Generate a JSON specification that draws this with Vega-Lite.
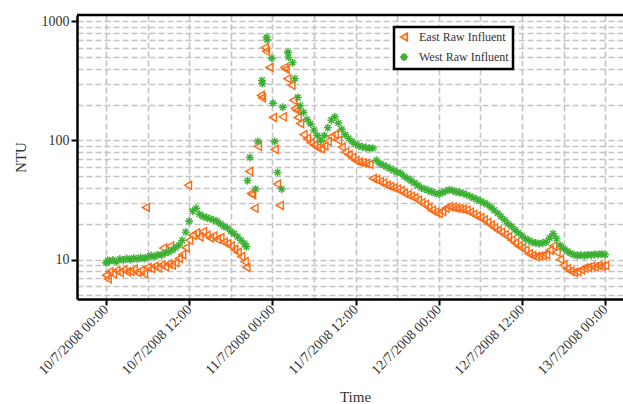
{
"$schema": "https://vega.github.io/schema/vega-lite/v6.json",
"width": 546, "height": 284,
"autosize": {"type": "none"},
"padding": {"left": 77, "top": 15, "right": 0, "bottom": 105},
"background": "white",
"config": {
 "view": {"stroke": null},
 "font": "Liberation Serif",
 "axis": {"grid": true, "gridColor": "#c4c4c4", "gridDash": [6, 3], "gridWidth": 1.6, "domainColor": "black", "domainWidth": 2.5, "tickColor": "black", "tickWidth": 2, "tickSize": 6, "labelFont": "Liberation Serif", "labelFontSize": 14, "labelColor": "#333", "titleFont": "Liberation Serif", "titleFontSize": 15, "titleFontWeight": "normal", "titleColor": "#333", "labelOverlap": false, "labelFlush": false},
 "legend": {"strokeColor": "black", "strokeWidth": 2.5, "fillColor": "white", "padding": 4, "labelFontSize": 12, "labelFont": "Liberation Serif", "labelColor": "#333", "symbolSize": 55, "symbolStrokeWidth": 1.8, "rowPadding": 4, "labelOffset": 9}
},
"data": {"values": [
{"t":"2008-07-10T00:00Z","E":7.4,"W":9.4},
{"t":"2008-07-10T00:15Z","E":6.9,"W":9.8},
{"t":"2008-07-10T00:30Z","E":7.9,"W":9.7},
{"t":"2008-07-10T01:00Z","E":7.6,"W":9.9},
{"t":"2008-07-10T01:30Z","E":8.1,"W":9.6},
{"t":"2008-07-10T02:00Z","E":7.8,"W":10.1},
{"t":"2008-07-10T02:30Z","E":8.2,"W":9.9},
{"t":"2008-07-10T03:00Z","E":7.9,"W":10.2},
{"t":"2008-07-10T03:30Z","E":8.0,"W":10.0},
{"t":"2008-07-10T04:00Z","E":8.3,"W":10.3},
{"t":"2008-07-10T04:30Z","E":7.8,"W":10.1},
{"t":"2008-07-10T05:00Z","E":8.1,"W":10.4},
{"t":"2008-07-10T05:30Z","E":7.6,"W":10.2},
{"t":"2008-07-10T05:45Z","E":27.4},
{"t":"2008-07-10T06:00Z","E":8.6,"W":10.5},
{"t":"2008-07-10T06:30Z","E":8.4,"W":10.8},
{"t":"2008-07-10T07:00Z","E":8.8,"W":10.6},
{"t":"2008-07-10T07:30Z","E":8.5,"W":11.0},
{"t":"2008-07-10T08:00Z","E":9.0,"W":10.9},
{"t":"2008-07-10T08:15Z","E":12.5},
{"t":"2008-07-10T08:30Z","E":8.7,"W":11.3},
{"t":"2008-07-10T09:00Z","E":9.2,"W":11.6},
{"t":"2008-07-10T09:15Z","E":13.0},
{"t":"2008-07-10T09:30Z","E":9.0,"W":12.0},
{"t":"2008-07-10T10:00Z","E":9.4,"W":12.5},
{"t":"2008-07-10T10:30Z","E":10.2,"W":13.2},
{"t":"2008-07-10T11:00Z","E":11.0,"W":14.5},
{"t":"2008-07-10T11:30Z","E":12.6,"W":17.0},
{"t":"2008-07-10T11:50Z","E":42},
{"t":"2008-07-10T12:00Z","E":14.5,"W":21.0},
{"t":"2008-07-10T12:30Z","E":16.0,"W":25.5},
{"t":"2008-07-10T13:00Z","E":16.8,"W":27.0},
{"t":"2008-07-10T13:30Z","E":15.5,"W":24.0},
{"t":"2008-07-10T14:00Z","E":17.2,"W":23.0},
{"t":"2008-07-10T14:30Z","E":16.0,"W":22.5},
{"t":"2008-07-10T15:00Z","E":15.2,"W":22.0},
{"t":"2008-07-10T15:30Z","E":15.8,"W":21.5},
{"t":"2008-07-10T16:00Z","E":14.8,"W":21.0},
{"t":"2008-07-10T16:30Z","E":15.3,"W":20.0},
{"t":"2008-07-10T17:00Z","E":14.0,"W":19.0},
{"t":"2008-07-10T17:30Z","E":13.6,"W":18.5},
{"t":"2008-07-10T18:00Z","E":13.0,"W":17.2},
{"t":"2008-07-10T18:30Z","E":12.2,"W":16.5},
{"t":"2008-07-10T19:00Z","E":11.5,"W":15.5},
{"t":"2008-07-10T19:30Z","E":10.6,"W":14.5},
{"t":"2008-07-10T20:00Z","E":9.6,"W":13.6},
{"t":"2008-07-10T20:15Z","E":8.6,"W":12.8},
{"t":"2008-07-10T20:25Z","W":46},
{"t":"2008-07-10T20:40Z","E":55},
{"t":"2008-07-10T20:45Z","W":72},
{"t":"2008-07-10T20:55Z","E":36},
{"t":"2008-07-10T21:05Z","E":35},
{"t":"2008-07-10T21:25Z","E":27},
{"t":"2008-07-10T21:35Z","W":39},
{"t":"2008-07-10T21:55Z","E":89,"W":98},
{"t":"2008-07-10T22:20Z","E":239},
{"t":"2008-07-10T22:30Z","E":228,"W":319},
{"t":"2008-07-10T22:35Z","W":300},
{"t":"2008-07-10T22:55Z","E":600},
{"t":"2008-07-10T23:05Z","E":560},
{"t":"2008-07-10T23:10Z","W":735},
{"t":"2008-07-10T23:15Z","W":700},
{"t":"2008-07-10T23:35Z","E":410},
{"t":"2008-07-10T23:55Z","W":490},
{"t":"2008-07-11T00:05Z","E":156,"W":205},
{"t":"2008-07-11T00:20Z","E":84,"W":98},
{"t":"2008-07-11T00:40Z","E":43},
{"t":"2008-07-11T00:45Z","W":54},
{"t":"2008-07-11T01:05Z","E":28.5},
{"t":"2008-07-11T01:20Z","W":39},
{"t":"2008-07-11T01:30Z","E":158,"W":190},
{"t":"2008-07-11T01:45Z","E":410},
{"t":"2008-07-11T01:55Z","E":395},
{"t":"2008-07-11T02:10Z","E":330},
{"t":"2008-07-11T02:15Z","W":550},
{"t":"2008-07-11T02:20Z","W":500},
{"t":"2008-07-11T02:45Z","E":290},
{"t":"2008-07-11T02:55Z","W":450},
{"t":"2008-07-11T03:00Z","E":217},
{"t":"2008-07-11T03:15Z","E":186,"W":330},
{"t":"2008-07-11T03:30Z","E":178},
{"t":"2008-07-11T03:40Z","E":156,"W":230},
{"t":"2008-07-11T04:00Z","E":139,"W":195},
{"t":"2008-07-11T04:30Z","E":112,"W":172},
{"t":"2008-07-11T05:00Z","E":104,"W":150},
{"t":"2008-07-11T05:30Z","E":96,"W":138},
{"t":"2008-07-11T06:00Z","E":91,"W":122},
{"t":"2008-07-11T06:30Z","E":87,"W":110},
{"t":"2008-07-11T07:00Z","E":85,"W":100},
{"t":"2008-07-11T07:30Z","E":90,"W":110},
{"t":"2008-07-11T08:00Z","E":98,"W":128},
{"t":"2008-07-11T08:30Z","E":108,"W":148},
{"t":"2008-07-11T09:00Z","E":112,"W":158},
{"t":"2008-07-11T09:30Z","E":100,"W":140},
{"t":"2008-07-11T10:00Z","E":88,"W":124},
{"t":"2008-07-11T10:30Z","E":80,"W":112},
{"t":"2008-07-11T11:00Z","E":76,"W":104},
{"t":"2008-07-11T11:30Z","E":72,"W":98},
{"t":"2008-07-11T12:00Z","E":68,"W":93},
{"t":"2008-07-11T12:30Z","E":66,"W":90},
{"t":"2008-07-11T13:00Z","E":65,"W":88},
{"t":"2008-07-11T13:30Z","E":64,"W":87},
{"t":"2008-07-11T14:00Z","E":63,"W":86},
{"t":"2008-07-11T14:30Z","E":48,"W":86},
{"t":"2008-07-11T15:00Z","E":47,"W":68},
{"t":"2008-07-11T15:30Z","E":45,"W":64},
{"t":"2008-07-11T16:00Z","E":44,"W":62},
{"t":"2008-07-11T16:30Z","E":42,"W":60},
{"t":"2008-07-11T17:00Z","E":41,"W":58},
{"t":"2008-07-11T17:30Z","E":40,"W":56},
{"t":"2008-07-11T18:00Z","E":39,"W":54},
{"t":"2008-07-11T18:30Z","E":38,"W":53},
{"t":"2008-07-11T19:00Z","E":36,"W":50},
{"t":"2008-07-11T19:30Z","E":35,"W":48},
{"t":"2008-07-11T20:00Z","E":34,"W":46},
{"t":"2008-07-11T20:30Z","E":33,"W":44},
{"t":"2008-07-11T21:00Z","E":31.5,"W":42},
{"t":"2008-07-11T21:30Z","E":30,"W":40},
{"t":"2008-07-11T22:00Z","E":29,"W":39},
{"t":"2008-07-11T22:30Z","E":27.5,"W":38},
{"t":"2008-07-11T23:00Z","E":26,"W":37},
{"t":"2008-07-11T23:30Z","E":25,"W":36},
{"t":"2008-07-12T00:00Z","E":24.5,"W":35.5},
{"t":"2008-07-12T00:30Z","E":25.5,"W":36.5},
{"t":"2008-07-12T01:00Z","E":27,"W":37.5},
{"t":"2008-07-12T01:30Z","E":27.8,"W":38.5},
{"t":"2008-07-12T02:00Z","E":27.5,"W":38},
{"t":"2008-07-12T02:30Z","E":27,"W":37},
{"t":"2008-07-12T03:00Z","E":26.8,"W":36.5},
{"t":"2008-07-12T03:30Z","E":26.5,"W":36},
{"t":"2008-07-12T04:00Z","E":26,"W":35},
{"t":"2008-07-12T04:30Z","E":25,"W":34},
{"t":"2008-07-12T05:00Z","E":24,"W":33},
{"t":"2008-07-12T05:30Z","E":23.2,"W":32},
{"t":"2008-07-12T06:00Z","E":22.5,"W":31},
{"t":"2008-07-12T06:30Z","E":21.5,"W":30},
{"t":"2008-07-12T07:00Z","E":20.5,"W":29},
{"t":"2008-07-12T07:30Z","E":19.5,"W":27.5},
{"t":"2008-07-12T08:00Z","E":18.5,"W":26},
{"t":"2008-07-12T08:30Z","E":17.6,"W":24.5},
{"t":"2008-07-12T09:00Z","E":17,"W":23},
{"t":"2008-07-12T09:30Z","E":16.2,"W":21.5},
{"t":"2008-07-12T10:00Z","E":15.5,"W":20},
{"t":"2008-07-12T10:30Z","E":14.6,"W":19},
{"t":"2008-07-12T11:00Z","E":13.8,"W":17.8},
{"t":"2008-07-12T11:30Z","E":13,"W":16.8},
{"t":"2008-07-12T12:00Z","E":12.5,"W":15.8},
{"t":"2008-07-12T12:30Z","E":12,"W":15},
{"t":"2008-07-12T13:00Z","E":11.2,"W":14.5},
{"t":"2008-07-12T13:30Z","E":10.8,"W":14},
{"t":"2008-07-12T14:00Z","E":10.6,"W":13.8},
{"t":"2008-07-12T14:30Z","E":10.7,"W":13.6},
{"t":"2008-07-12T15:00Z","E":10.8,"W":13.8},
{"t":"2008-07-12T15:30Z","E":11,"W":14},
{"t":"2008-07-12T16:00Z","E":12,"W":15.2},
{"t":"2008-07-12T16:30Z","E":13,"W":16.5},
{"t":"2008-07-12T17:00Z","E":11.5,"W":15},
{"t":"2008-07-12T17:30Z","E":10,"W":13.2},
{"t":"2008-07-12T18:00Z","E":9,"W":12.4},
{"t":"2008-07-12T18:30Z","E":8.4,"W":11.8},
{"t":"2008-07-12T19:00Z","E":8,"W":11.3},
{"t":"2008-07-12T19:30Z","E":7.8,"W":11},
{"t":"2008-07-12T20:00Z","E":7.9,"W":10.8},
{"t":"2008-07-12T20:30Z","E":8.2,"W":10.9},
{"t":"2008-07-12T21:00Z","E":8.5,"W":10.8},
{"t":"2008-07-12T21:30Z","E":8.6,"W":11},
{"t":"2008-07-12T22:00Z","E":8.8,"W":10.9},
{"t":"2008-07-12T22:30Z","E":8.7,"W":11.1},
{"t":"2008-07-12T23:00Z","E":8.9,"W":11},
{"t":"2008-07-12T23:30Z","E":8.8,"W":11.2},
{"t":"2008-07-13T00:00Z","E":8.9,"W":11}
]},
"layer": [
 {
  "transform": [{"fold": ["E", "W"], "as": ["s", "v"]}, {"filter": "isValid(datum.v)"}],
  "mark": {"type": "point", "filled": false, "strokeWidth": 1.4, "size": 65, "opacity": 1},
  "encoding": {
   "x": {"field": "t", "type": "temporal",
    "scale": {"type": "utc", "nice": false, "domain": [{"year": 2008, "month": 7, "date": 9, "hours": 19, "minutes": 49, "utc": true}, {"year": 2008, "month": 7, "date": 13, "hours": 2, "minutes": 35, "utc": true}]},
    "axis": {"title": "Time", "titleX": 278, "titlePadding": 12,
     "values": [
      {"year": 2008, "month": 7, "date": 10, "hours": 0, "utc": true},
      {"year": 2008, "month": 7, "date": 10, "hours": 6, "utc": true},
      {"year": 2008, "month": 7, "date": 10, "hours": 12, "utc": true},
      {"year": 2008, "month": 7, "date": 10, "hours": 18, "utc": true},
      {"year": 2008, "month": 7, "date": 11, "hours": 0, "utc": true},
      {"year": 2008, "month": 7, "date": 11, "hours": 6, "utc": true},
      {"year": 2008, "month": 7, "date": 11, "hours": 12, "utc": true},
      {"year": 2008, "month": 7, "date": 11, "hours": 18, "utc": true},
      {"year": 2008, "month": 7, "date": 12, "hours": 0, "utc": true},
      {"year": 2008, "month": 7, "date": 12, "hours": 6, "utc": true},
      {"year": 2008, "month": 7, "date": 12, "hours": 12, "utc": true},
      {"year": 2008, "month": 7, "date": 12, "hours": 18, "utc": true},
      {"year": 2008, "month": 7, "date": 13, "hours": 0, "utc": true}
     ],
     "labelExpr": "utchours(datum.value) % 12 == 0 ? utcFormat(datum.value, '%d/%-m/%Y %H:%M') : ''",
     "labelAngle": -45, "labelAlign": "right", "labelBaseline": "middle",
     "tickOpacity": {"condition": {"test": "utchours(datum.value) % 12 == 0", "value": 1}, "value": 0}
    }},
   "y": {"field": "v", "type": "quantitative",
    "scale": {"type": "log", "nice": false, "domain": [4.67, 1129]},
    "axis": {"title": "NTU", "titlePadding": 13,
     "values": [5, 6, 7, 8, 9, 10, 20, 30, 40, 50, 60, 70, 80, 90, 100, 200, 300, 400, 500, 600, 700, 800, 900, 1000],
     "labelExpr": "indexof([10, 100, 1000], datum.value) >= 0 ? '' + datum.value : ''",
     "tickOpacity": {"condition": {"test": "indexof([10, 100, 1000], datum.value) >= 0", "value": 1}, "value": 0}
    }},
   "color": {"field": "s", "type": "nominal",
    "scale": {"domain": ["E", "W"], "range": ["#ff6a13", "#3cb034"]},
    "legend": {"orient": "none", "legendX": 317, "legendY": 12, "title": null, "labelExpr": "datum.label == 'E' ? 'East Raw Influent' : 'West Raw Influent'"}},
   "shape": {"field": "s", "type": "nominal",
    "scale": {"domain": ["E", "W"], "range": ["triangle-left", "M0,-1V1M-1,0H1M-0.7,-0.7L0.7,0.7M-0.7,0.7L0.7,-0.7"]},
    "legend": {"orient": "none", "legendX": 317, "legendY": 12, "title": null, "labelExpr": "datum.label == 'E' ? 'East Raw Influent' : 'West Raw Influent'"}}
  }
 },
 {
  "data": {"values": [{"top": 1129}]},
  "mark": {"type": "rule", "color": "black", "strokeWidth": 2.5},
  "encoding": {"y": {"field": "top", "type": "quantitative"}}
 }
]
}
